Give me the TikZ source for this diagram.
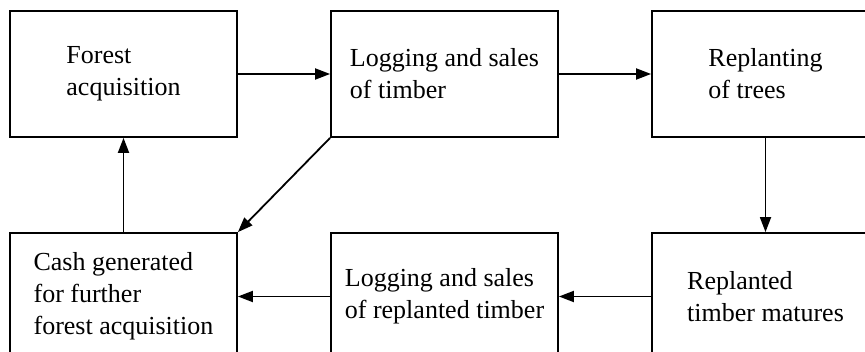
\documentclass[tikz,border=0pt]{standalone}
\usepackage{fontspec}
\setmainfont{Liberation Serif}
\usetikzlibrary{arrows.meta}
\begin{document}
\begin{tikzpicture}[x=1pt,y=-1pt,
  box/.style={draw, line width=1.8pt, rectangle, minimum width=227pt, inner sep=0pt,
    align=left, font=\fontsize{26}{32}\selectfont},
  topbox/.style={box, minimum height=126pt},
  botbox/.style={box, minimum height=127pt},
  flow/.style={line width=1.8pt, -{Triangle[length=15pt,width=11pt]}}]
\useasboundingbox (0,0) rectangle (865,352);
\clip (0,0) rectangle (865,352);
\fill[white] (0,0) rectangle (865,352);
\node[topbox] (fa) at (123.5,74) {Forest\\acquisition};
\node[topbox] (ls) at (444.5,74) {Logging and sales\\of timber};
\node[topbox] (rp) at (765.5,74) {Replanting\\of trees};
\node[botbox] (cg) at (123.5,296.5) {Cash generated\\for further\\forest acquisition};
\node[botbox] (lr) at (444.5,296.5) {Logging and sales\\of replanted timber};
\node[botbox] (rm) at (765.5,296.5) {Replanted\\timber matures};
\draw[flow] (fa) -- (ls);
\draw[flow] (ls) -- (rp);
\draw[flow] (rp) -- (rm);
\draw[flow] (rm) -- (lr);
\draw[flow] (lr) -- (cg);
\draw[flow] (cg) -- (fa);
\draw[flow] (ls.south west) -- (cg.north east);
\end{tikzpicture}
\end{document}
